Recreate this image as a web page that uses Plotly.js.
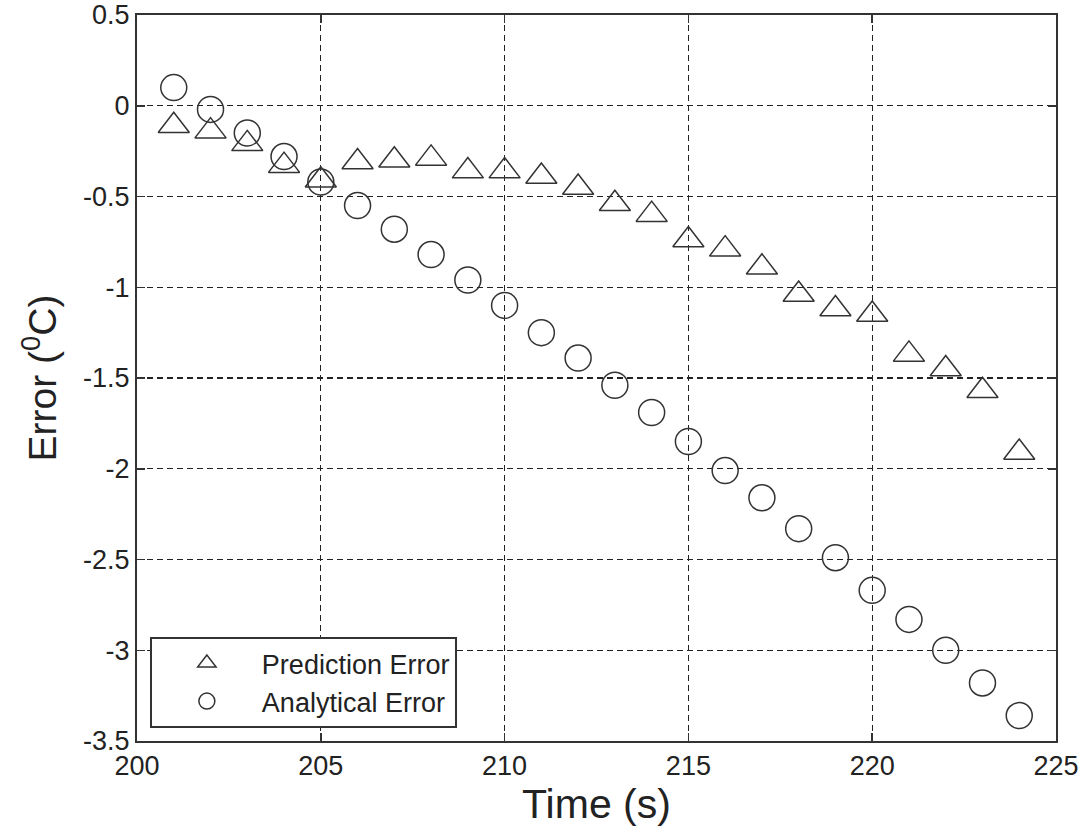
<!DOCTYPE html>
<html>
<head>
<meta charset="utf-8">
<script src="https://cdn.plot.ly/plotly-3.0.1.min.js"></script>
<style>html,body{margin:0;padding:0;background:#fff;}#chart{width:1086px;height:831px;}</style>
</head>
<body>
<div id="chart"></div>
<script>
var time = [201,202,203,204,205,206,207,208,209,210,211,212,213,214,215,216,217,218,219,220,221,222,223,224];
var predictionError = [-0.11,-0.14,-0.21,-0.33,-0.41,-0.31,-0.30,-0.29,-0.36,-0.36,-0.39,-0.45,-0.54,-0.60,-0.74,-0.79,-0.89,-1.04,-1.12,-1.15,-1.37,-1.45,-1.57,-1.91];
var analyticalError = [0.10,-0.02,-0.15,-0.28,-0.42,-0.55,-0.68,-0.82,-0.96,-1.10,-1.25,-1.39,-1.54,-1.69,-1.85,-2.01,-2.16,-2.33,-2.49,-2.67,-2.83,-3.00,-3.18,-3.36];
var xTickVals = [200,205,210,215,220,225];
var xTickText = ['200','205','210','215','220','225'];
var yTickVals = [0.5,0,-0.5,-1,-1.5,-2,-2.5,-3,-3.5];
var yTickText = ['0.5','0','-0.5','-1','-1.5','-2','-2.5','-3','-3.5'];

var font = 'Liberation Sans, Arial, Helvetica, sans-serif';
var markColor = '#333333';

var traces = [
  {x: time, y: predictionError, name: 'Prediction Error', type: 'scatter', mode: 'markers',
   marker: {symbol: 'triangle-up-open', size: 27, color: markColor, line: {width: 1.5, color: markColor}}},
  {x: time, y: analyticalError, name: 'Analytical Error', type: 'scatter', mode: 'markers',
   marker: {symbol: 'circle-open', size: 26, color: markColor, line: {width: 1.5, color: markColor}}}
];

var axisCommon = {
  showline: true, linecolor: '#333', linewidth: 2, mirror: 'ticks',
  ticks: 'inside', ticklen: 8, tickwidth: 1.5, tickcolor: '#333',
  showgrid: true, gridcolor: '#222', gridwidth: 1.3, griddash: '6px,4px',
  zeroline: false, tickfont: {family: font, size: 27, color: '#222'}, tickmode: 'array'
};

var layout = {
  width: 1086, height: 831,
  margin: {l: 137, r: 30, t: 15, b: 90},
  paper_bgcolor: '#fff', plot_bgcolor: '#fff',
  font: {family: font, color: '#222'},
  showlegend: true,
  xaxis: Object.assign({}, axisCommon, {
    range: [200, 225], tickvals: xTickVals, ticktext: xTickText,
    title: {text: 'Time (s)', font: {family: font, size: 41, color: '#222'}, standoff: 5}
  }),
  yaxis: Object.assign({}, axisCommon, {
    range: [-3.5, 0.5], tickvals: yTickVals, ticktext: yTickText,
    title: {text: 'Error (<sup>0</sup>C)', font: {family: font, size: 39, color: '#222'}, standoff: 14}
  }),
  legend: {
    x: 0.014, y: 0.018, xanchor: 'left', yanchor: 'bottom',
    bgcolor: '#fff', bordercolor: '#333', borderwidth: 2,
    font: {family: font, size: 27, color: '#222'},
    itemwidth: 100, tracegroupgap: 0
  }
};

Plotly.newPlot('chart', traces, layout, {displayModeBar: false, staticPlot: true});
</script>
</body>
</html>
